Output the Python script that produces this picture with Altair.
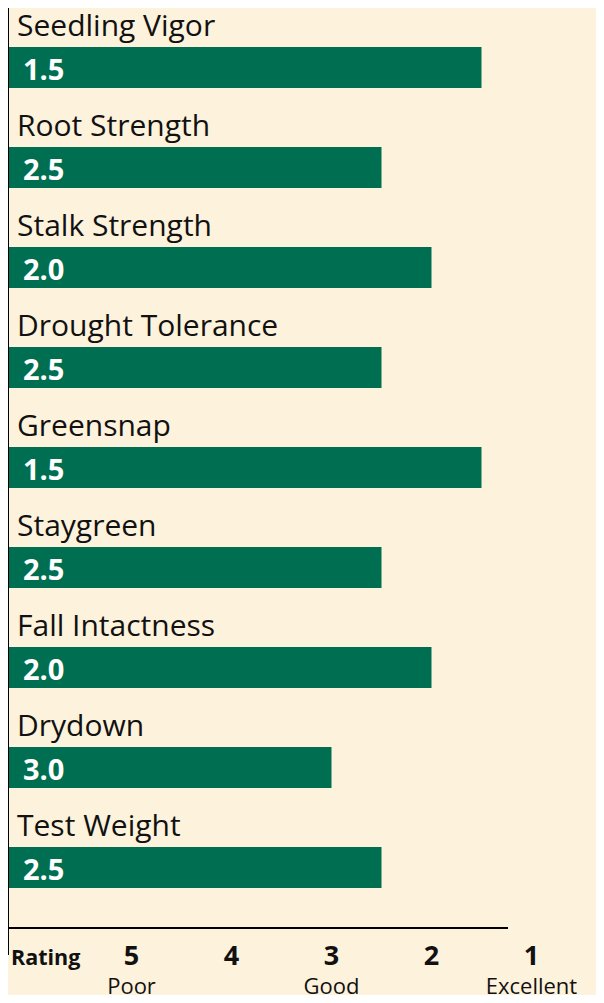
import altair as alt
import pandas as pd

traits = ["Seedling Vigor", "Root Strength", "Stalk Strength", "Drought Tolerance",
          "Greensnap", "Staygreen", "Fall Intactness", "Drydown", "Test Weight"]
ratings = [1.5, 2.5, 2.0, 2.5, 1.5, 2.5, 2.0, 3.0, 2.5]
tick_values = [5, 4, 3, 2, 1]
tick_words = ["Poor", "Good", "Excellent"]
tick_word_values = [5, 3, 1]

BG = "#FDF2DC"
GREEN = "#006F51"
FONT = "Open Sans"
X_LEFT = 6.235
X_RIGHT = 0.355

df = pd.DataFrame({"trait": traits, "rating": ratings,
                   "label": [f"{v:.1f}" for v in ratings]})
ticks = pd.DataFrame({"v": tick_values, "t": [str(v) for v in tick_values]})
words = pd.DataFrame({"v": tick_word_values, "t": tick_words,
                      "dx": [9, 0, 4]})

xscale = alt.Scale(domain=[X_LEFT, X_RIGHT], nice=False, zero=False)
yscale = alt.Scale(domain=traits, range=[9.5, 909.5], paddingInner=0, paddingOuter=0)

base = alt.Chart(df)
bars = base.mark_bar(size=41, color=GREEN).encode(
    x=alt.X("rating:Q", scale=xscale, axis=None),
    x2=alt.datum(X_LEFT),
    y=alt.Y("trait:N", scale=yscale, axis=None, sort=traits),
)
names = base.mark_text(align="left", baseline="alphabetic", dy=-31.5,
                       font=FONT, fontSize=30, color="#111111").encode(
    x=alt.value(9),
    y=alt.Y("trait:N", scale=yscale, axis=None, sort=traits),
    text="trait:N",
)
vals = base.mark_text(align="left", baseline="alphabetic", dy=12.5,
                      font=FONT, fontSize=29, fontWeight="bold", color="white").encode(
    x=alt.value(15),
    y=alt.Y("trait:N", scale=yscale, axis=None, sort=traits),
    text="label:N",
)
vline = alt.Chart(df.head(1)).mark_rule(color="black", strokeWidth=2).encode(
    x=alt.value(0), y=alt.value(-8), y2=alt.value(947))
hline = alt.Chart(df.head(1)).mark_rule(color="black", strokeWidth=2).encode(
    x=alt.value(0), x2=alt.value(500), y=alt.value(920))
rating_lbl = alt.Chart(df.head(1)).mark_text(
    align="left", baseline="alphabetic", font=FONT, fontSize=21.5,
    fontWeight="bold", color="#111111", text="Rating").encode(
    x=alt.value(3), y=alt.value(957))
tick_lbl = alt.Chart(ticks).mark_text(
    align="center", baseline="alphabetic", font=FONT, fontSize=27,
    fontWeight="bold", color="#111111").encode(
    x=alt.X("v:Q", scale=xscale, axis=None), y=alt.value(957), text="t:N")
word_lbl = alt.Chart(words).mark_text(
    align="center", baseline="alphabetic", font=FONT, fontSize=22,
    color="#111111").encode(
    x=alt.X("v:Q", scale=xscale, axis=None), y=alt.value(986), text="t:N",
    xOffset=alt.XOffset("dx:Q", scale=None))

chart = alt.layer(bars, names, vals, vline, hline, rating_lbl, tick_lbl, word_lbl).properties(
    width=588, height=987, background=BG,
    autosize=alt.AutoSizeParams(type="none"), padding=0,
).configure_view(stroke=None)

chart.save("out.html", embed_options={"renderer": "svg", "actions": False})
